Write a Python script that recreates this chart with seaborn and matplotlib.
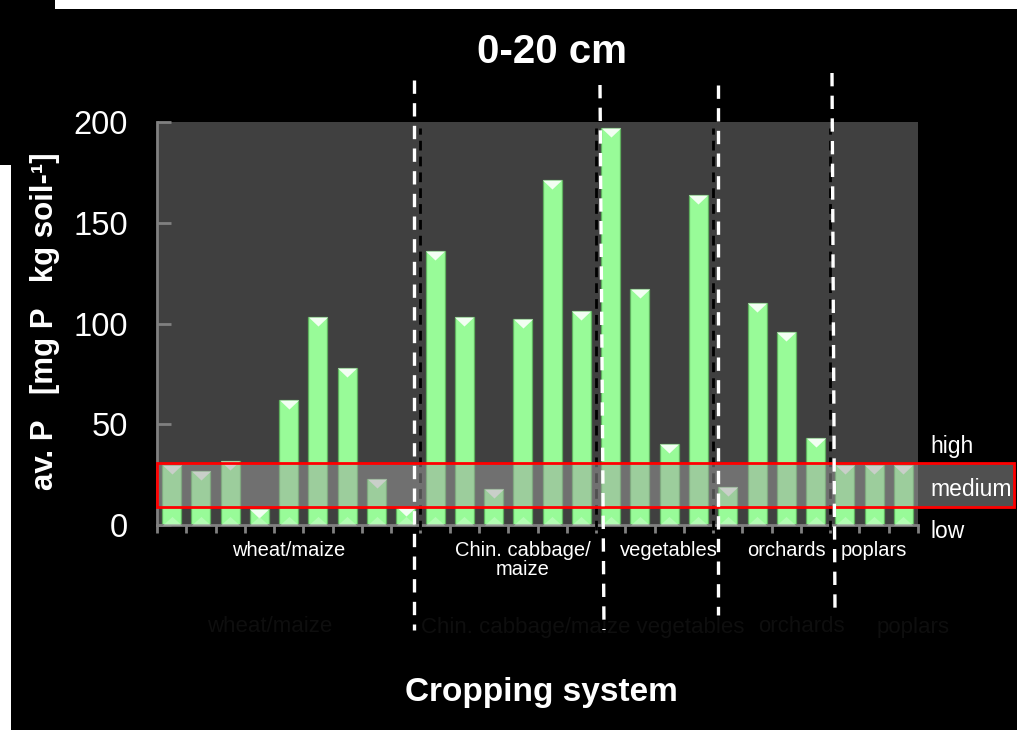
import numpy as np
import pandas as pd
import matplotlib
matplotlib.use("Agg")
import matplotlib.pyplot as plt
import seaborn as sns
from matplotlib.patches import Rectangle
from matplotlib.lines import Line2D
from matplotlib.path import Path
import matplotlib.transforms as mtransforms

# ---------------- data ----------------
groups = ["wheat/maize", "Chin. cabbage/\nmaize", "vegetables", "orchards", "poplars"]
wheat_maize = [30, 27, 32, 8, 62, 103, 78, 23, 9]
cabbage_maize = [136, 103, 18, 102, 171, 106]
vegetables = [197, 117, 40, 164]
orchards = [19, 110, 96, 43]
poplars = [30, 30, 30]
group_values = [wheat_maize, cabbage_maize, vegetables, orchards, poplars]
yticks = [0, 50, 100, 150, 200]
class_labels = ["high", "medium", "low"]
medium_range = [9, 31]
ghost_labels = ["wheat/maize", "Chin. cabbage/maize vegetables", "orchards", "poplars"]
title = "0-20 cm"
ylabel = "av. P   [mg P   kg soil-\u00b9]"
xlabel = "Cropping system"

rows = []
k = 0
for g, vals in zip(groups, group_values):
    for v in vals:
        rows.append({"site": f"S{k:02d}", "group": g, "value": v})
        k += 1
df = pd.DataFrame(rows)
order = list(df["site"])
n = len(order)

# ---------------- figure ----------------
W, H = 1017, 730
plt.rcParams["font.family"] = ["Liberation Sans", "DejaVu Sans"]
fig = plt.figure(figsize=(W / 100, H / 100), dpi=100, facecolor="black")

def fx(px):
    return px / W

def fy(py):
    return 1 - py / H

ax_l, ax_r, ax_t, ax_b = 157, 918, 122, 525
ax = fig.add_axes([fx(ax_l), fy(ax_b), fx(ax_r - ax_l), (ax_b - ax_t) / H])
ax.set_facecolor("#404040")

bar_w = 0.65
sns.barplot(data=df, x="site", y="value", order=order, color="palegreen",
            saturation=1, width=bar_w, edgecolor="#5fb05f", linewidth=0.9,
            ax=ax, zorder=2)
ax.set_xlim(-0.5, n - 0.5)
ax.set_ylim(0, 200)
ax.set_xlabel("")
ax.set_ylabel("")

# bevel triangles on bars
bar_px = bar_w * (ax_r - ax_l) / n
ms = bar_px * 72 / 100
top_marker = Path([(-1, 0), (1, 0), (0, -0.95), (-1, 0)])
bot_marker = Path([(-1, 0), (1, 0), (0, 0.9), (-1, 0)])
xs = np.arange(n)
ax.scatter(xs, df["value"], marker=top_marker, s=ms ** 2, color="#f8fff8",
           linewidths=0, zorder=3, alpha=0.95)
ax.scatter(xs, np.zeros(n), marker=bot_marker, s=ms ** 2, color="#d4ffd4",
           linewidths=0, zorder=3, alpha=0.45)

# axes styling
for s in ["top", "right"]:
    ax.spines[s].set_visible(False)
for s in ["left", "bottom"]:
    ax.spines[s].set_color("#808080")
    ax.spines[s].set_linewidth(2)
ax.set_yticks(yticks)
ax.set_yticklabels([str(t) for t in yticks])
ax.tick_params(axis="y", direction="in", length=10, width=2, color="#808080",
               labelcolor="white", labelsize=23.5, pad=21)
ax.set_xticks(np.arange(-0.5, n, 1))
ax.set_xticklabels([""] * (n + 1))
ax.tick_params(axis="x", direction="out", length=6, width=2, color="#808080")
ax.grid(False)

# group boundaries (black dashed inside the axes)
sizes = [len(v) for v in group_values]
bounds = np.cumsum(sizes)[:-1] - 0.5
for b in bounds:
    ax.axvline(b, ymin=-0.012, ymax=0.985, color="black", lw=2,
               dashes=(3.5, 2.2), zorder=4, clip_on=False)

# medium band (red rectangle)
blend = mtransforms.blended_transform_factory(ax.transAxes, ax.transData)
band_right = (1014 - ax_l) / (ax_r - ax_l)
ax.add_patch(Rectangle((0, medium_range[0]), band_right,
                       medium_range[1] - medium_range[0], transform=blend,
                       facecolor=(0.63, 0.63, 0.63, 0.5), edgecolor="red",
                       lw=2, zorder=5, clip_on=False))

# category labels
centers = [4, 12, 17, 21, 24]
lbl_tr = mtransforms.blended_transform_factory(ax.transData, fig.transFigure)
for c, g in zip(centers, groups):
    ax.text(c, fy(541), g, transform=lbl_tr, ha="center", va="top",
            color="white", fontsize=14.5, linespacing=1.0)

# high / medium / low
for lab, py in zip(class_labels, [446, 489, 531]):
    fig.text(fx(930), fy(py), lab, ha="left", va="center", color="white",
             fontsize=16.5)

# faint ghost labels
for lab, px in zip(ghost_labels, [270, 583, 801, 913]):
    fig.text(fx(px), fy(627), lab, ha="center", va="center", color="#0e0e0e",
             fontsize=16)

# white dashed separators (figure level)
sep_lines = [((414, 80), (414, 630)), ((600, 85), (604, 630)),
             ((718, 85), (718, 615)), ((832, 73), (835, 612))]
for (x0, y0), (x1, y1) in sep_lines:
    fig.add_artist(Line2D([fx(x0), fx(x1)], [fy(y0), fy(y1)],
                          transform=fig.transFigure, color="white", lw=2.4,
                          dashes=(4, 2.8), zorder=10))

# titles
fig.text(fx(552), fy(52), title, ha="center", va="center", color="white",
         fontsize=29, fontweight="bold")
fig.text(fx(45), fy(321), ylabel, ha="center", va="center", color="white",
         fontsize=22.5, fontweight="bold", rotation=90)
fig.text(fx(541), fy(693), xlabel, ha="center", va="center", color="white",
         fontsize=24, fontweight="bold")

# white frame strips
fig.add_artist(Rectangle((fx(55), fy(9)), fx(W - 55), 9 / H,
                         transform=fig.transFigure, facecolor="white",
                         edgecolor="none", zorder=20))
fig.add_artist(Rectangle((0, 0), fx(10.5), fy(165), transform=fig.transFigure,
                         facecolor="white", edgecolor="none", zorder=20))

fig.savefig("out.png", dpi=100, facecolor="black")
